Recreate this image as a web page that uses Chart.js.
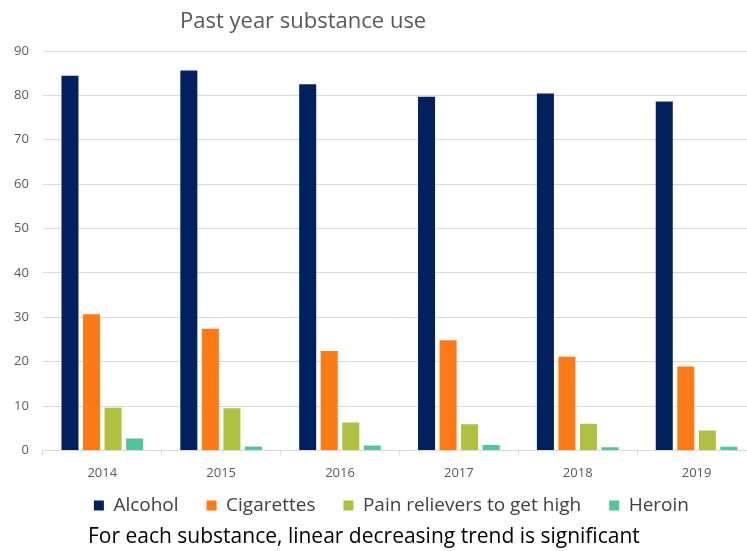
<!DOCTYPE html>
<html lang="en">
<head>
  <meta charset="UTF-8">
  <title>Past year substance use</title>
  <script src="https://cdn.jsdelivr.net/npm/chart.js"></script>
  <style>
    body {
      margin: 0;
      background: #fff;
      width: 747px;
      height: 551px;
      overflow: hidden;
      position: relative;
      font-family: "Open Sans", Arial, sans-serif;
    }
    #title {
      position: absolute;
      left: 180px;
      top: 4px;
      font-size: 22px;
      color: #595959;
    }
    #wrap {
      position: absolute;
      left: 0;
      top: 0;
      width: 756px;
      height: 548px;
    }
    #note {
      position: absolute;
      left: 88px;
      top: 521px;
      font-size: 21px;
      color: #000;
      white-space: nowrap;
    }
  </style>
</head>
<body>
  <div id="wrap"><canvas id="chart"></canvas></div>
  <div id="title">Past year substance use</div>
  <div id="note">For each substance, linear decreasing trend is significant</div>

  <script>
    const years = ['2014', '2015', '2016', '2017', '2018', '2019'];
    const alcohol = [84.4, 85.6, 82.5, 79.7, 80.4, 78.6];
    const cigarettes = [30.7, 27.4, 22.4, 24.8, 21.1, 18.9];
    const painRelievers = [9.6, 9.5, 6.3, 5.9, 6.0, 4.5];
    const heroin = [2.7, 0.9, 1.1, 1.2, 0.7, 0.8];

    // pull the legend up into the empty space under the year labels
    const legendShift = {
      id: 'legendShift',
      afterLayout(chart) {
        const lg = chart.legend;
        if (!lg) return;
        lg.top -= 23;
        lg.bottom -= 23;
        lg.left -= 8;
        lg.right -= 8;
      }
    };

    const ctx = document.getElementById('chart').getContext('2d');
    new Chart(ctx, {
      type: 'bar',
      data: {
        labels: years,
        datasets: [
          { label: 'Alcohol', data: alcohol, backgroundColor: '#00215e' },
          { label: 'Cigarettes', data: cigarettes, backgroundColor: '#fd7a17' },
          { label: 'Pain relievers to get high', data: painRelievers, backgroundColor: '#b0c042' },
          { label: 'Heroin', data: heroin, backgroundColor: '#50c5a0' }
        ]
      },
      plugins: [legendShift],
      options: {
        responsive: true,
        maintainAspectRatio: false,
        animation: false,
        categoryPercentage: 0.725,
        barPercentage: 0.79,
        borderWidth: 0,
        layout: { padding: { top: 51, left: 0, right: 0, bottom: 0 } },
        plugins: {
          legend: {
            position: 'bottom',
            fullSize: false,
            labels: {
              boxWidth: 10,
              boxHeight: 10,
              padding: 28,
              color: '#404040',
              font: { family: 'Open Sans', size: 19 }
            }
          },
          tooltip: { enabled: false }
        },
        scales: {
          x: {
            grid: { drawOnChartArea: false, color: '#d9d9d9', tickLength: 5 },
            border: { color: '#d9d9d9' },
            ticks: { color: '#595959', font: { family: 'Open Sans', size: 13 }, padding: 10 }
          },
          y: {
            min: 0,
            max: 90,
            ticks: { stepSize: 10, color: '#595959', font: { family: 'Open Sans', size: 13 }, padding: 14 },
            grid: { color: '#d9d9d9', drawTicks: false },
            border: { display: false }
          }
        }
      }
    });
  </script>
</body>
</html>
